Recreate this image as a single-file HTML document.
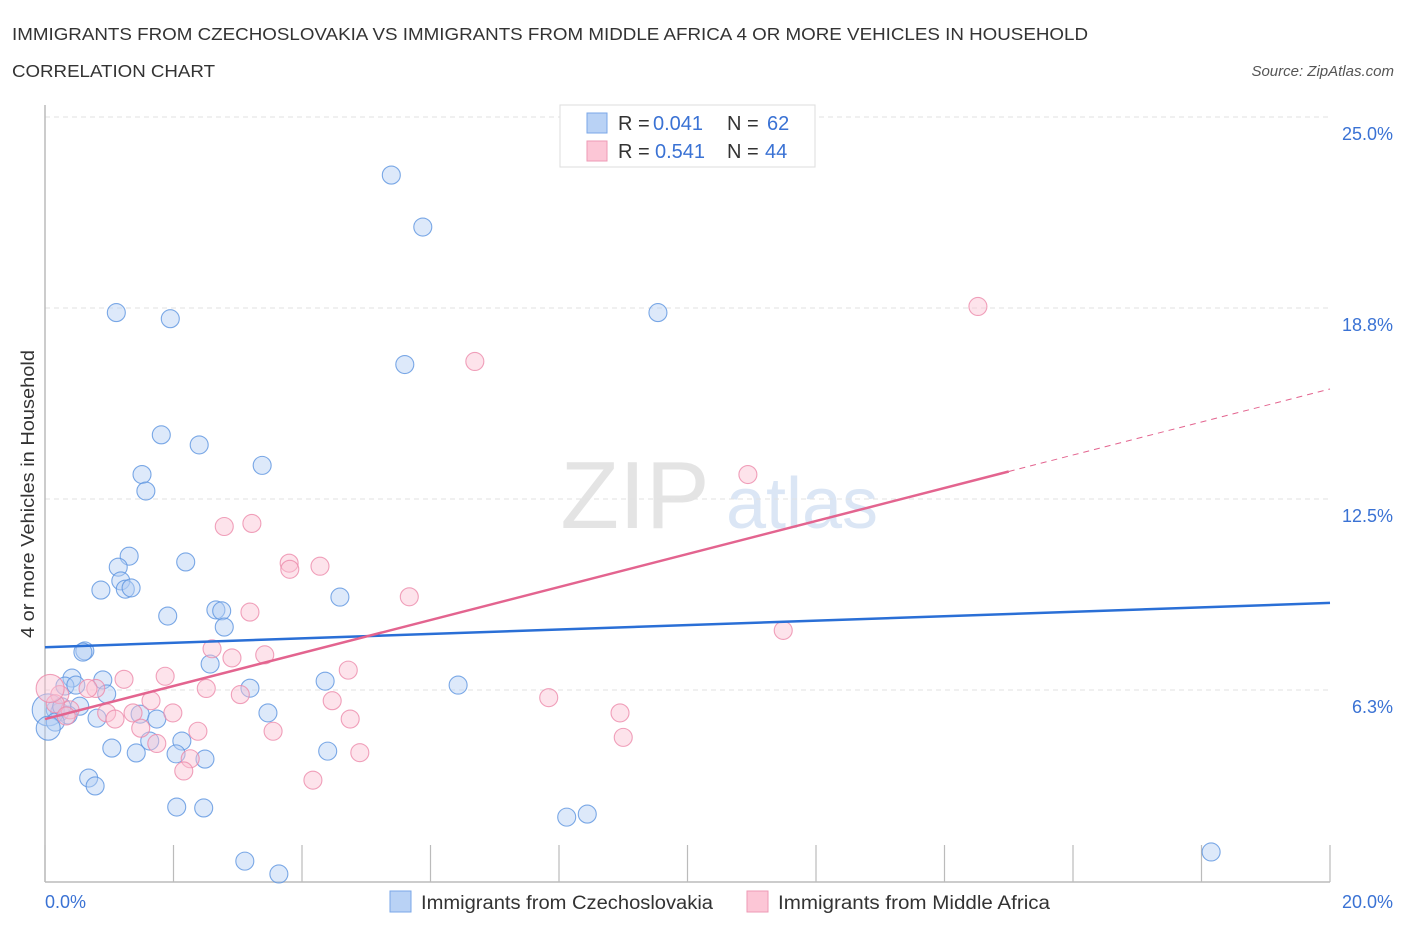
<!DOCTYPE html>
<html><head><meta charset="utf-8"><style>
body{margin:0;background:#fff;font-family:"Liberation Sans",sans-serif;}
svg text{font-family:"Liberation Sans",sans-serif;}
</style></head><body>
<svg width="1406" height="930" xmlns="http://www.w3.org/2000/svg">
<text x="12" y="40" font-size="17.5" fill="#333" textLength="1076" lengthAdjust="spacingAndGlyphs">IMMIGRANTS FROM CZECHOSLOVAKIA VS IMMIGRANTS FROM MIDDLE AFRICA 4 OR MORE VEHICLES IN HOUSEHOLD</text>
<text x="12" y="77" font-size="17.5" fill="#333" textLength="203" lengthAdjust="spacingAndGlyphs">CORRELATION CHART</text>
<text x="1394" y="76" font-size="15" fill="#555" font-style="italic" text-anchor="end">Source: ZipAtlas.com</text>
<text x="635" y="528" font-size="96" fill="#e4e4e4" font-family="Liberation Serif" text-anchor="middle">ZIP</text>
<text x="802" y="528" font-size="72" fill="#dbe6f5" text-anchor="middle">atlas</text>
<g id="grid"></g>
<g id="ticks"></g>
<line x1="45" y1="105" x2="45" y2="882" stroke="#bbb" stroke-width="1.5"/>
<line x1="45" y1="882" x2="1330" y2="882" stroke="#bbb" stroke-width="1.5"/>
<text transform="translate(34,494) rotate(-90)" font-size="18" fill="#333" text-anchor="middle" textLength="288" lengthAdjust="spacingAndGlyphs">4 or more Vehicles in Household</text>
<text x="45" y="908" font-size="18" fill="#3a72d4">0.0%</text>
<text x="1393" y="908" font-size="18" fill="#3a72d4" text-anchor="end">20.0%</text>
<g id="blue"></g><g id="pink"></g><g id="trends"></g>
<g>
<rect x="560" y="105" width="255" height="62" fill="#fff" stroke="#ddd"/>
<rect x="587" y="113" width="20" height="20" fill="#b9d2f5" stroke="#7aa7e8"/>
<rect x="587" y="141" width="20" height="20" fill="#fcc6d6" stroke="#ee9ab5"/>
<text x="618" y="130" font-size="20" fill="#333">R =</text>
<text x="653" y="130" font-size="20" fill="#3a72d4">0.041</text>
<text x="727" y="130" font-size="20" fill="#333">N =</text>
<text x="767" y="130" font-size="20" fill="#3a72d4">62</text>
<text x="618" y="158" font-size="20" fill="#333">R =</text>
<text x="655" y="158" font-size="20" fill="#3a72d4">0.541</text>
<text x="727" y="158" font-size="20" fill="#333">N =</text>
<text x="765" y="158" font-size="20" fill="#3a72d4">44</text>
</g>
<g>
<rect x="390" y="891" width="21" height="21" fill="#b9d2f5" stroke="#7aa7e8"/>
<text x="421" y="909" font-size="19" fill="#333" textLength="292" lengthAdjust="spacingAndGlyphs">Immigrants from Czechoslovakia</text>
<rect x="747" y="891" width="21" height="21" fill="#fcc6d6" stroke="#ee9ab5"/>
<text x="778" y="909" font-size="19" fill="#333" textLength="272" lengthAdjust="spacingAndGlyphs">Immigrants from Middle Africa</text>
</g>
</svg>
<script>
const yTicks=[6.25,12.5,18.75,25];
const yTickLabels=["6.3%","12.5%","18.8%","25.0%"];
const xTicks=[0,2,4,6,8,10,12,14,16,18,20];
const blueX=[5.39,5.88,1.11,1.95,9.54,5.6,1.81,2.4,3.38,1.51,1.57,1.31,2.19,1.14,1.18,0.87,1.25,1.34,1.91,2.66,2.75,2.79,4.59,0.62,0.59,2.57,0.9,0.42,0.31,0.48,0.96,6.43,4.36,3.19,0.54,0.16,0.23,0.36,0.81,1.48,1.74,3.47,1.04,1.42,2.13,2.04,2.49,4.4,1.63,0.68,0.78,2.05,2.47,8.12,8.44,3.11,3.64,18.15,0.05,0.16,0.05,0.26];
const blueY=[23.1,21.4,18.6,18.4,18.6,16.9,14.6,14.27,13.6,13.3,12.76,10.63,10.44,10.27,9.82,9.52,9.55,9.59,8.67,8.87,8.84,8.31,9.29,7.53,7.49,7.1,6.58,6.64,6.38,6.41,6.12,6.41,6.54,6.31,5.72,5.6,5.53,5.43,5.33,5.46,5.3,5.5,4.35,4.19,4.58,4.16,3.99,4.25,4.58,3.37,3.11,2.42,2.39,2.09,2.19,0.65,0.23,0.95,5.6,5.2,5.0,5.7];
const blueR=[9,9,9,9,9,9,9,9,9,9,9,9,9,9,9,9,9,9,9,9,9,9,9,9,9,9,9,9,9,9,9,9,9,9,9,9,9,9,9,9,9,9,9,9,9,9,9,9,9,9,9,9,9,9,9,9,9,9,16,9,12,9];
const pinkX=[14.52,6.69,10.94,3.22,2.79,3.8,4.28,3.81,5.67,3.19,11.49,2.6,2.91,3.42,4.72,1.87,1.23,0.79,2.51,3.04,0.67,7.84,4.47,1.65,0.96,1.99,1.37,4.75,8.95,1.09,1.49,2.38,3.55,1.74,9.0,4.9,2.26,2.16,4.17,0.23,0.39,0.16,0.33,0.08];
const pinkY=[18.8,17.0,13.3,11.7,11.6,10.4,10.3,10.2,9.3,8.8,8.2,7.6,7.3,7.4,6.9,6.7,6.6,6.3,6.3,6.1,6.3,6.0,5.9,5.9,5.5,5.5,5.5,5.3,5.5,5.3,5.0,4.9,4.9,4.5,4.7,4.2,4.0,3.6,3.3,6.1,5.6,5.8,5.4,6.3];
const pinkR=[9,9,9,9,9,9,9,9,9,9,9,9,9,9,9,9,9,9,9,9,9,9,9,9,9,9,9,9,9,9,9,9,9,9,9,9,9,9,9,9,9,9,9,14];
const blueTrend=[7.65,9.1];
const pinkTrend=[5.3,13.4,16.1];
const NS="http://www.w3.org/2000/svg";
const X=v=>45+v*64.25, Y=v=>881-v*30.56;
function mk(t,a,p){const e=document.createElementNS(NS,t);for(const k in a)e.setAttribute(k,a[k]);p.appendChild(e);return e;}
const grid=document.getElementById('grid');
const gt=mk('line',{x1:45,y1:Y(25),x2:1330,y2:Y(25),stroke:'#e2e2e2','stroke-dasharray':'5,4'},grid);


yTicks.forEach((t,i)=>{
 const l=mk('line',{x1:45,y1:Y(t),x2:1330,y2:Y(t),stroke:'#e2e2e2','stroke-dasharray':'5,4'},grid);
 
 
 const tx=mk('text',{x:1393,y:Y(t)+23,'font-size':18,fill:'#3a72d4','text-anchor':'end'},grid);
 tx.textContent=yTickLabels[i];
 
 
});
const tk=document.getElementById('ticks');
xTicks.forEach(t=>{
 const l=mk('line',{x1:X(t),y1:845,x2:X(t),y2:882,stroke:'#bbb','stroke-width':1.2},tk);
 
 
});
function pts(xs,ys,rs,g,fill,stroke,name){
 xs.forEach((x,i)=>{
  const c=mk('circle',{cx:X(x),cy:Y(ys[i]),r:rs[i],fill:fill,'fill-opacity':0.45,stroke:stroke,'stroke-opacity':0.8,'stroke-width':1.1},g);
  
  
 });
}
pts(blueX,blueY,blueR,document.getElementById('blue'),'#b3cff4','#5b93e0','point-czechoslovakia');
pts(pinkX,pinkY,pinkR,document.getElementById('pink'),'#fbc0d2','#ec8aaa','point-middle-africa');
const tr=document.getElementById('trends');
const b=mk('line',{x1:X(0),y1:Y(blueTrend[0]),x2:X(20),y2:Y(blueTrend[1]),stroke:'#2a6fd6','stroke-width':2.5},tr);


const p=mk('line',{x1:X(0),y1:Y(pinkTrend[0]),x2:X(15),y2:Y(pinkTrend[1]),stroke:'#e3648f','stroke-width':2.5},tr);


const pd=mk('line',{x1:X(15),y1:Y(pinkTrend[1]),x2:X(20),y2:Y(pinkTrend[2]),stroke:'#e3648f','stroke-width':1,'stroke-dasharray':'6,5'},tr);


</script>
</body></html>
